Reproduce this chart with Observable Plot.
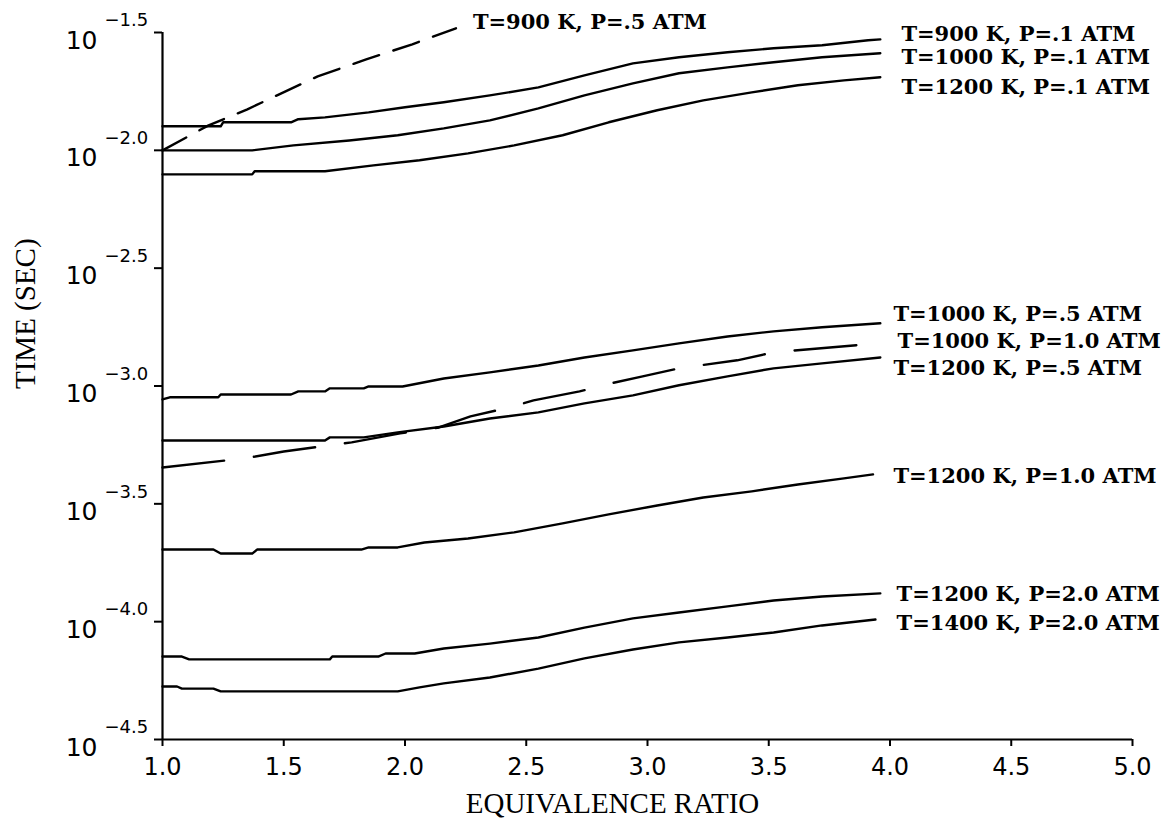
<!DOCTYPE html>
<html>
<head>
<meta charset="utf-8">
<script src="https://cdn.jsdelivr.net/npm/d3@7"></script>
<script src="https://cdn.jsdelivr.net/npm/@observablehq/plot@0.6"></script>
<style>
  html, body { margin: 0; padding: 0; background: #fff; }
  #chart svg { display: block; }
</style>
</head>
<body>
<div id="chart"></div>
<script>
// Ignition delay time vs. equivalence ratio, each curve as [phi, log10(time in s)]
const s900K_01 = [[1.00,-1.898],[1.24,-1.898],[1.25,-1.881],[1.53,-1.881],[1.56,-1.868],[1.67,-1.860],[1.85,-1.839],[2.00,-1.817],[2.16,-1.796],[2.35,-1.767],[2.55,-1.733],[2.74,-1.682],[2.94,-1.631],[3.13,-1.605],[3.33,-1.584],[3.52,-1.567],[3.72,-1.554],[3.91,-1.533],[3.96,-1.529]];
const s1000K_01 = [[1.00,-2.000],[1.37,-2.000],[1.54,-1.979],[1.77,-1.958],[1.97,-1.936],[2.16,-1.907],[2.35,-1.873],[2.55,-1.822],[2.74,-1.767],[2.94,-1.716],[3.13,-1.673],[3.33,-1.648],[3.52,-1.626],[3.72,-1.605],[3.96,-1.588]];
const s1200K_01 = [[1.00,-2.102],[1.37,-2.102],[1.38,-2.089],[1.67,-2.089],[1.87,-2.064],[2.06,-2.042],[2.26,-2.013],[2.45,-1.979],[2.65,-1.936],[2.84,-1.881],[3.04,-1.830],[3.23,-1.788],[3.43,-1.754],[3.62,-1.724],[3.81,-1.703],[3.96,-1.690]];
const s900K_05 = [[1.00,-2.000],[1.19,-1.894],[1.35,-1.826],[1.49,-1.758],[1.64,-1.686],[1.84,-1.614],[2.03,-1.550],[2.21,-1.482]];
const s1000K_05 = [[1.00,-3.057],[1.03,-3.048],[1.23,-3.048],[1.24,-3.036],[1.53,-3.036],[1.56,-3.023],[1.67,-3.023],[1.69,-3.010],[1.83,-3.010],[1.85,-3.002],[1.99,-3.002],[2.16,-2.968],[2.35,-2.942],[2.55,-2.913],[2.74,-2.879],[2.94,-2.849],[3.13,-2.819],[3.33,-2.790],[3.52,-2.768],[3.72,-2.751],[3.96,-2.734]];
const s1000K_10 = [[1.00,-3.346],[1.34,-3.307],[1.50,-3.278],[1.78,-3.239],[1.98,-3.201],[2.14,-3.176],[2.27,-3.129],[2.43,-3.091],[2.53,-3.061],[2.72,-3.023],[2.83,-2.993],[2.98,-2.959],[3.13,-2.925],[3.37,-2.891],[3.52,-2.857],[3.91,-2.823]];
const s1200K_05 = [[1.00,-3.231],[1.67,-3.231],[1.69,-3.218],[1.83,-3.218],[1.97,-3.197],[2.16,-3.172],[2.35,-3.138],[2.55,-3.112],[2.74,-3.074],[2.94,-3.040],[3.13,-2.997],[3.33,-2.959],[3.52,-2.925],[3.72,-2.904],[3.96,-2.879]];
const s1200K_10 = [[1.00,-3.694],[1.21,-3.694],[1.24,-3.711],[1.37,-3.711],[1.39,-3.694],[1.82,-3.694],[1.85,-3.685],[1.97,-3.685],[2.08,-3.664],[2.26,-3.647],[2.45,-3.621],[2.65,-3.583],[2.84,-3.545],[3.04,-3.507],[3.23,-3.473],[3.43,-3.447],[3.62,-3.418],[3.81,-3.392],[3.93,-3.375]];
const s1200K_20 = [[1.00,-4.148],[1.08,-4.148],[1.11,-4.160],[1.69,-4.160],[1.70,-4.148],[1.89,-4.148],[1.92,-4.135],[2.04,-4.135],[2.16,-4.114],[2.35,-4.093],[2.55,-4.067],[2.74,-4.025],[2.94,-3.986],[3.13,-3.961],[3.33,-3.935],[3.52,-3.910],[3.72,-3.893],[3.96,-3.880]];
const s1400K_20 = [[1.00,-4.275],[1.06,-4.275],[1.08,-4.284],[1.21,-4.284],[1.24,-4.296],[1.97,-4.296],[2.06,-4.279],[2.16,-4.262],[2.35,-4.237],[2.55,-4.199],[2.74,-4.156],[2.94,-4.118],[3.13,-4.088],[3.33,-4.067],[3.52,-4.046],[3.72,-4.016],[3.94,-3.991]];

// Curve labels and where each one sits, in [phi, log10(time)]
const labelText = ["T=900 K, P=.5 ATM", "T=900 K, P=.1 ATM", "T=1000 K, P=.1 ATM", "T=1200 K, P=.1 ATM",
  "T=1000 K, P=.5 ATM", "T=1000 K, P=1.0 ATM", "T=1200 K, P=.5 ATM", "T=1200 K, P=1.0 ATM",
  "T=1200 K, P=2.0 ATM", "T=1400 K, P=2.0 ATM"];
const labelPhi = [2.28, 4.047, 4.047, 4.047, 4.014, 4.031, 4.014, 4.014, 4.027, 4.027];
const labelLogT = [-1.457, -1.508, -1.605, -1.733, -2.696, -2.811, -2.925, -3.384, -3.885, -4.008];

const xTicks = [1.0, 1.5, 2.0, 2.5, 3.0, 3.5, 4.0, 4.5, 5.0];
const yExponents = [-1.5, -2.0, -2.5, -3.0, -3.5, -4.0, -4.5];
const xTitle = "EQUIVALENCE RATIO";
const yTitle = "TIME (SEC)";

const toRows = (name, pts) => pts.map(([phi, e]) => ({series: name, phi, time: 10 ** e}));
const solidRows = [
  ...toRows("900K .1", s900K_01), ...toRows("1000K .1", s1000K_01), ...toRows("1200K .1", s1200K_01),
  ...toRows("1000K .5", s1000K_05), ...toRows("1200K .5", s1200K_05), ...toRows("1200K 1.0", s1200K_10),
  ...toRows("1200K 2.0", s1200K_20), ...toRows("1400K 2.0", s1400K_20)
];
const shortDashRows = toRows("900K .5", s900K_05);
const longDashRows = toRows("1000K 1.0", s1000K_10);
const labels = labelText.map((t, i) => ({text: t, phi: labelPhi[i], time: 10 ** labelLogT[i]}));

const ink = "#000";
const lineOpts = {x: "phi", y: "time", stroke: ink, strokeWidth: 2.4, strokeLinejoin: "round"};

const chart = Plot.plot({
  width: 1164,
  height: 831,
  marginLeft: 162,
  marginRight: 32,
  marginTop: 32,
  marginBottom: 92,
  style: {background: "#fff", color: ink, overflow: "visible"},
  x: {domain: [1, 5]},
  y: {type: "log", domain: [10 ** -4.5, 10 ** -1.5]},
  marks: [
    Plot.axisX({ticks: xTicks, tickFormat: d => d.toFixed(1), tickSize: 7, tickPadding: 11,
      fontSize: 24, fontFamily: "DejaVu Sans", strokeWidth: 2, label: null}),
    Plot.axisY({ticks: yExponents.map(e => 10 ** e), tickFormat: () => "", tickSize: 8,
      strokeWidth: 2, label: null}),
    Plot.ruleX([1], {stroke: ink, strokeWidth: 2.2}),
    Plot.ruleY([10 ** -4.5], {stroke: ink, strokeWidth: 2.2}),
    // y tick labels as 10 with a raised exponent
    Plot.text(yExponents, {y: e => 10 ** e, frameAnchor: "left", text: () => "10", textAnchor: "end",
      dx: -65, dy: 8, fontSize: 25, fontFamily: "DejaVu Sans", fill: ink}),
    Plot.text(yExponents, {y: e => 10 ** e, frameAnchor: "left", text: e => "\u2212" + Math.abs(e).toFixed(1),
      textAnchor: "start", dx: -58, dy: -12, fontSize: 18, fontFamily: "DejaVu Sans", fill: ink}),
    Plot.line(solidRows, {...lineOpts, z: "series"}),
    Plot.line(shortDashRows, {...lineOpts, strokeDasharray: "27,15"}),
    Plot.line(longDashRows, {...lineOpts, strokeDasharray: "62,30"}),
    Plot.text(labels, {x: "phi", y: "time", text: "text", textAnchor: "start", fontSize: 21,
      fontFamily: "DejaVu Serif", fontWeight: "bold", fill: ink}),
    Plot.text([xTitle], {frameAnchor: "bottom", dx: -35, dy: 73, fontSize: 29,
      fontFamily: "Liberation Serif", fill: ink}),
    Plot.text([yTitle], {frameAnchor: "left", dx: -137, dy: 3, rotate: -90, fontSize: 29,
      fontFamily: "Liberation Serif", fill: ink})
  ]
});
document.getElementById("chart").append(chart);
</script>
</body>
</html>
